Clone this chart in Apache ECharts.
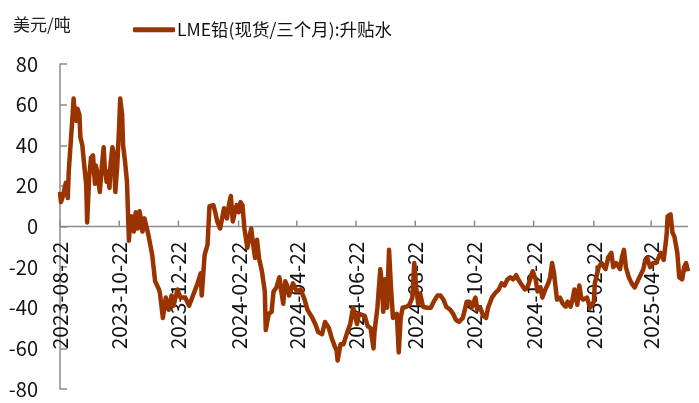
<!DOCTYPE html>
<html>
<head>
<meta charset="utf-8">
<title>LME铅升贴水</title>
<script src="https://cdn.jsdelivr.net/npm/echarts/dist/echarts.min.js"></script>
<style>
	html, body { margin: 0; padding: 0; background: #fff; }
	#chart { width: 699px; height: 403px; }
</style>
</head>
<body>
<div id="chart"></div>
<script>
// 刻度日期（每两个月）
var tickDates = ['2023-08-22', '2023-10-22', '2023-12-22', '2024-02-22', '2024-04-22', '2024-06-22',
	'2024-08-22', '2024-10-22', '2024-12-22', '2025-02-22', '2025-04-22'];

// LME铅(现货/三个月) 升贴水，美元/吨
var dates = [
	'2023-08-22', '2023-08-23', '2023-08-25', '2023-08-28', '2023-08-30', '2023-08-31',
	'2023-09-02', '2023-09-04', '2023-09-05', '2023-09-06', '2023-09-08', '2023-09-09', '2023-09-11', '2023-09-12',
	'2023-09-14', '2023-09-16', '2023-09-18', '2023-09-19', '2023-09-21', '2023-09-23', '2023-09-25', '2023-09-27',
	'2023-09-28', '2023-09-30',
	'2023-10-02', '2023-10-04', '2023-10-06', '2023-10-07', '2023-10-09', '2023-10-10', '2023-10-12', '2023-10-13',
	'2023-10-15', '2023-10-16', '2023-10-18', '2023-10-20', '2023-10-22', '2023-10-23', '2023-10-25', '2023-10-26',
	'2023-10-28', '2023-10-30',
	'2023-11-01', '2023-11-02', '2023-11-04', '2023-11-06', '2023-11-08', '2023-11-10', '2023-11-12', '2023-11-14',
	'2023-11-15', '2023-11-17', '2023-11-19', '2023-11-21', '2023-11-25', '2023-11-28',
	'2023-12-02', '2023-12-03', '2023-12-06', '2023-12-09', '2023-12-12', '2023-12-15', '2023-12-17', '2023-12-21',
	'2023-12-24', '2023-12-29',
	'2024-01-02', '2024-01-06', '2024-01-10', '2024-01-12', '2024-01-14', '2024-01-15', '2024-01-18', '2024-01-21',
	'2024-01-23', '2024-01-27', '2024-01-29', '2024-01-31',
	'2024-02-03', '2024-02-05', '2024-02-07', '2024-02-10', '2024-02-12', '2024-02-14', '2024-02-16', '2024-02-18',
	'2024-02-20', '2024-02-22', '2024-02-24', '2024-02-26', '2024-02-28',
	'2024-03-02', '2024-03-04', '2024-03-06', '2024-03-08', '2024-03-10', '2024-03-12', '2024-03-14', '2024-03-17',
	'2024-03-20', '2024-03-21', '2024-03-24', '2024-03-27', '2024-03-29',
	'2024-04-01', '2024-04-04', '2024-04-06', '2024-04-08', '2024-04-10', '2024-04-12', '2024-04-14', '2024-04-18',
	'2024-04-22', '2024-04-26', '2024-04-30',
	'2024-05-03', '2024-05-08', '2024-05-11', '2024-05-14', '2024-05-18', '2024-05-21', '2024-05-25', '2024-05-28',
	'2024-05-31',
	'2024-06-02', '2024-06-03', '2024-06-06', '2024-06-09', '2024-06-13', '2024-06-16', '2024-06-19', '2024-06-23',
	'2024-06-25',
	'2024-07-01', '2024-07-04', '2024-07-07', '2024-07-10', '2024-07-11', '2024-07-14', '2024-07-17', '2024-07-19',
	'2024-07-20', '2024-07-22', '2024-07-24', '2024-07-26', '2024-07-28', '2024-07-30',
	'2024-08-03', '2024-08-05', '2024-08-07', '2024-08-09', '2024-08-13', '2024-08-16', '2024-08-19', '2024-08-21',
	'2024-08-23', '2024-08-25', '2024-08-27', '2024-08-30',
	'2024-09-03', '2024-09-07', '2024-09-10', '2024-09-14', '2024-09-17', '2024-09-20', '2024-09-23', '2024-09-27',
	'2024-09-30',
	'2024-10-03', '2024-10-06', '2024-10-10', '2024-10-14', '2024-10-17', '2024-10-19', '2024-10-23', '2024-10-25',
	'2024-10-28', '2024-10-31',
	'2024-11-03', '2024-11-05', '2024-11-09', '2024-11-12', '2024-11-16', '2024-11-19', '2024-11-22', '2024-11-25',
	'2024-11-28',
	'2024-12-01', '2024-12-04', '2024-12-06', '2024-12-10', '2024-12-13', '2024-12-16', '2024-12-19', '2024-12-21',
	'2024-12-24', '2024-12-26', '2024-12-29', '2024-12-31',
	'2025-01-03', '2025-01-06', '2025-01-08', '2025-01-10', '2025-01-12', '2025-01-15', '2025-01-18', '2025-01-21',
	'2025-01-24', '2025-01-26', '2025-01-29', '2025-01-31',
	'2025-02-02', '2025-02-05', '2025-02-07', '2025-02-09', '2025-02-11', '2025-02-15', '2025-02-18', '2025-02-22',
	'2025-02-23', '2025-02-27',
	'2025-03-02', '2025-03-06', '2025-03-09', '2025-03-12', '2025-03-14', '2025-03-17', '2025-03-21', '2025-03-23',
	'2025-03-25', '2025-03-27', '2025-03-30',
	'2025-04-02', '2025-04-05', '2025-04-07', '2025-04-10', '2025-04-14', '2025-04-16', '2025-04-18', '2025-04-21',
	'2025-04-24', '2025-04-27', '2025-04-30',
	'2025-05-02', '2025-05-05', '2025-05-08', '2025-05-09', '2025-05-12', '2025-05-14', '2025-05-16', '2025-05-19',
	'2025-05-21', '2025-05-24', '2025-05-26', '2025-05-28', '2025-05-30'
];

var premium = [
	17, 12, 15, 21.5, 14, 27,
	27, 55, 63, 57, 52, 58, 55, 44,
	40, 30, 20.5, 2, 24, 34, 35, 21,
	30, 25,
	17, 29, 39, 30, 22, 27, 19, 30,
	39, 37, 17, 30, 50, 63, 55, 40,
	32, 22,
	-7, 1, 5, -2.5, 7, -1, 7.5, 7,
	-2.5, 4, 0, -4, -14, -27,
	-31, -33, -45, -35, -41, -34, -39, -31,
	-35, -35,
	-39, -34, -29, -26, -23, -34, -14, -9,
	10, 10.5, 7, 2.5,
	-1, 4, 9, 4, 10.5, 15, 2.5, 7,
	10.5, 7, 12, 10.5, -1,
	-10.5, -5.5, -1, -9, -15.5, -6.5, -15.5, -22,
	-32, -51, -43, -42, -32,
	-30, -25, -32, -38, -27, -29, -34, -28,
	-32, -31, -36,
	-41, -45, -48, -52, -53, -47, -50, -55,
	-59,
	-61, -66, -58, -58, -52, -48, -40, -48,
	-43,
	-44, -49, -50, -60, -52, -40, -21, -30,
	-42, -26, -40, -11.5, -30, -45,
	-43, -62, -45, -40, -39.5, -38.5, -35, -18,
	-30, -38, -33, -39.5,
	-40, -40, -37, -34, -34, -36, -39.5, -41,
	-43,
	-46, -47, -45, -37, -37, -40, -35, -41,
	-40, -44,
	-45, -40, -35, -33, -31, -28, -29, -26,
	-25,
	-26, -24, -26, -29, -31, -29.5, -25, -22,
	-26, -32, -30, -35,
	-31, -28, -25, -18, -23, -36, -35, -38,
	-39.5, -37, -39.5, -36,
	-31, -38.5, -29, -35, -36, -35, -40, -37,
	-28, -20,
	-18, -21, -15, -13, -20, -18, -21, -15,
	-11.5, -20, -25,
	-28, -30, -28, -25, -21, -16.5, -15.5, -20,
	-18, -18, -15,
	-13, -16.5, -4, 5, 6, -3, -5, -13,
	-25, -26, -20, -18, -22
];

var axisMin = '2023-08-22';
var axisMax = '2025-05-30';

var DAY = 24 * 3600 * 1000;
var baseTime = echarts.time.parse(axisMin).getTime();

// 日期 -> 距起始日的天数
function toDay(str) {
	return Math.round((echarts.time.parse(str).getTime() - baseTime) / DAY);
}

var seriesData = [];
for(var i in dates) {
	seriesData.push([toDay(dates[i]), premium[i]]);
}

var tickValues = [];
for(var j in tickDates) {
	tickValues.push(toDay(tickDates[j]));
}

var gridTop = 64;
var gridBottom = 14;
var chartHeight = 403;
// 日期标签挂在0值线下面：从网格底边往上移半个网格高
var zeroOffset = -((chartHeight - gridTop - gridBottom) / 2);
var axisGray = '#8c8c8c';
var seriesName = 'LME铅(现货/三个月):升贴水';

var myChart = echarts.init(document.getElementById("chart"));
var option = {
	animation: false,
	textStyle: {
		fontFamily: '"Noto Sans CJK SC", "Noto Sans", sans-serif'
	},
	title: {
		text: '美元/吨',
		left: 8,
		top: 11,
		textStyle: {
			fontSize: 17,
			fontWeight: 'normal',
			color: '#222'
		}
	},
	legend: {
		left: 128,
		top: 16,
		icon: 'roundRect',
		itemWidth: 42,
		itemHeight: 5,
		itemGap: 10,
		textStyle: {
			fontSize: 17.5,
			color: '#111',
			padding: [0, 0, 0, -3]
		},
		data: [seriesName]
	},
	grid: {
		left: 60,
		right: 11,
		top: gridTop,
		bottom: gridBottom,
		containLabel: false,
		outerBoundsMode: 'none'
	},
	xAxis: {
		type: 'value',
		position: 'bottom',
		offset: zeroOffset,
		min: 0,
		max: toDay(axisMax),
		z: 3,
		axisLine: {
			show: false,
			onZero: false
		},
		axisTick: {
			show: false
		},
		axisLabel: {
			rotate: 90,
			margin: 15,
			fontSize: 21,
			color: '#111',
			customValues: tickValues,
			formatter: function(val) {
				return echarts.time.format(baseTime + val * DAY, '{yyyy}-{MM}-{dd}', false);
			}
		},
		splitLine: {
			show: false
		}
	},
	yAxis: {
		type: 'value',
		min: -80,
		max: 80,
		interval: 20,
		axisLine: {
			show: true,
			onZero: false,
			lineStyle: {
				color: axisGray,
				width: 1.5
			}
		},
		axisTick: {
			show: true,
			inside: true,
			length: 7,
			lineStyle: {
				color: axisGray,
				width: 1.5
			}
		},
		axisLabel: {
			fontSize: 20,
			color: '#111',
			margin: 22
		},
		splitLine: {
			show: false
		}
	},
	series: [{
		name: seriesName,
		type: 'line',
		showSymbol: false,
		symbol: 'none',
		color: '#993300',
		lineStyle: {
			width: 4.5,
			color: '#993300',
			join: 'round'
		},
		data: seriesData
	}]
};
myChart.setOption(option);

// 0值横轴线和向上的刻度：位置由图表的坐标换算得到
try {
	var zeroStart = myChart.convertToPixel({ gridIndex: 0 }, [0, 0]);
	var zeroEnd = myChart.convertToPixel({ gridIndex: 0 }, [toDay(axisMax), 0]);
	var axisElements = [{
		type: 'line',
		silent: true,
		z: 1,
		shape: { x1: zeroStart[0], y1: zeroStart[1], x2: zeroEnd[0], y2: zeroEnd[1] },
		style: { stroke: axisGray, lineWidth: 1.5 }
	}];
	for(var k in tickValues) {
		var pt = myChart.convertToPixel({ gridIndex: 0 }, [tickValues[k], 0]);
		axisElements.push({
			type: 'line',
			silent: true,
			z: 1,
			shape: { x1: pt[0], y1: pt[1], x2: pt[0], y2: pt[1] - 6 },
			style: { stroke: axisGray, lineWidth: 1.5 }
		});
	}
	myChart.setOption({ graphic: axisElements });
} catch(e) {
	console.log(e);
}
</script>
</body>
</html>
